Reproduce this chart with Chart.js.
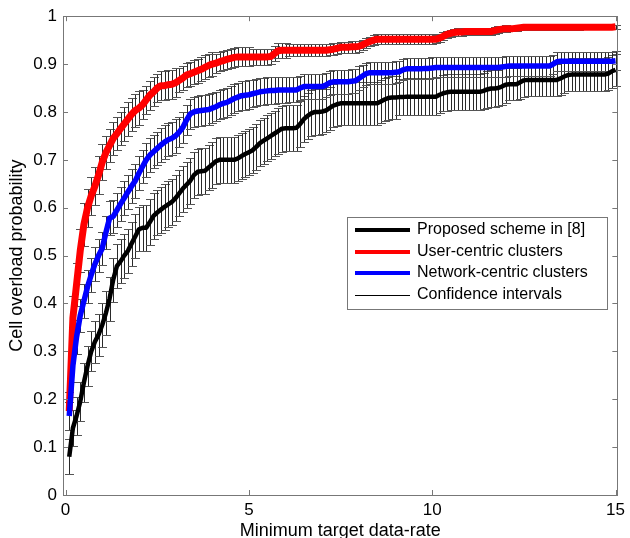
<!DOCTYPE html>
<html>
<head>
<meta charset="utf-8">
<script src="https://cdn.jsdelivr.net/npm/chart.js@4.4.1/dist/chart.umd.min.js"></script>
<style>
  body { margin: 0; background: #fff; }
  canvas { display: block; }
</style>
</head>
<body>
<canvas id="overloadChart" width="630" height="538"></canvas>
<script>
// minimum target data-rate (x)
const rates = [
  0.1, 0.2, 0.3, 0.4, 0.5, 0.6, 0.7, 0.8, 0.9, 1.0,
  1.1, 1.2, 1.3, 1.4, 1.5, 1.6, 1.7, 1.8, 1.9, 2.0,
  2.1, 2.2, 2.3, 2.4, 2.5, 2.6, 2.7, 2.8, 2.9, 3.0,
  3.1, 3.2, 3.3, 3.4, 3.5, 3.6, 3.7, 3.8, 3.9, 4.0,
  4.1, 4.2, 4.3, 4.4, 4.5, 4.6, 4.7, 4.8, 4.9, 5.0,
  5.1, 5.2, 5.3, 5.4, 5.5, 5.6, 5.7, 5.8, 5.9, 6.0,
  6.1, 6.2, 6.3, 6.4, 6.5, 6.6, 6.7, 6.8, 6.9, 7.0,
  7.1, 7.2, 7.3, 7.4, 7.5, 7.6, 7.7, 7.8, 7.9, 8.0,
  8.1, 8.2, 8.3, 8.4, 8.5, 8.6, 8.7, 8.8, 8.9, 9.0,
  9.1, 9.2, 9.3, 9.4, 9.5, 9.6, 9.7, 9.8, 9.9, 10.0,
  10.1, 10.2, 10.3, 10.4, 10.5, 10.6, 10.7, 10.8, 10.9, 11.0,
  11.1, 11.2, 11.3, 11.4, 11.5, 11.6, 11.7, 11.8, 11.9, 12.0,
  12.1, 12.2, 12.3, 12.4, 12.5, 12.6, 12.7, 12.8, 12.9, 13.0,
  13.1, 13.2, 13.3, 13.4, 13.5, 13.6, 13.7, 13.8, 13.9, 14.0,
  14.1, 14.2, 14.3, 14.4, 14.5, 14.6, 14.7, 14.8, 14.9, 15.0
]

// Proposed scheme in [8]
const proposed = [
  0.08, 0.14, 0.165, 0.195, 0.235, 0.27, 0.30, 0.32, 0.335, 0.355,
  0.38, 0.41, 0.45, 0.478, 0.488, 0.50, 0.51, 0.525, 0.54, 0.555,
  0.558, 0.558, 0.57, 0.583, 0.59, 0.596, 0.602, 0.607, 0.612, 0.62,
  0.63, 0.64, 0.648, 0.656, 0.668, 0.675, 0.676, 0.677, 0.684, 0.69,
  0.697, 0.70, 0.70, 0.70, 0.70, 0.70, 0.703, 0.708, 0.712, 0.716,
  0.72, 0.727, 0.735, 0.74, 0.745, 0.75, 0.755, 0.76, 0.765, 0.766,
  0.766, 0.766, 0.767, 0.775, 0.785, 0.792, 0.797, 0.80, 0.80, 0.801,
  0.803, 0.808, 0.813, 0.816, 0.818, 0.818, 0.818, 0.818, 0.818, 0.818,
  0.818, 0.818, 0.818, 0.818, 0.818, 0.822, 0.826, 0.829, 0.83, 0.83,
  0.831, 0.831, 0.832, 0.832, 0.832, 0.832, 0.832, 0.832, 0.832, 0.832,
  0.832, 0.836, 0.839, 0.841, 0.842, 0.842, 0.842, 0.842, 0.842, 0.842,
  0.842, 0.842, 0.842, 0.844, 0.847, 0.849, 0.849, 0.85, 0.853, 0.857,
  0.858, 0.858, 0.858, 0.862, 0.866, 0.867, 0.867, 0.867, 0.867, 0.867,
  0.867, 0.867, 0.867, 0.867, 0.87, 0.874, 0.877, 0.878, 0.878, 0.878,
  0.878, 0.878, 0.878, 0.878, 0.878, 0.878, 0.878, 0.88, 0.885, 0.888
]
const proposedErr = [
  0.036, 0.038, 0.04, 0.04, 0.04, 0.042, 0.042, 0.044, 0.044, 0.045,
  0.046, 0.046, 0.046, 0.046, 0.046, 0.046, 0.046, 0.046, 0.046, 0.046,
  0.048, 0.048, 0.048, 0.048, 0.048, 0.048, 0.048, 0.048, 0.048, 0.048,
  0.048, 0.048, 0.048, 0.048, 0.048, 0.048, 0.048, 0.048, 0.048, 0.048,
  0.048, 0.048, 0.048, 0.048, 0.048, 0.048, 0.048, 0.048, 0.048, 0.048,
  0.048, 0.048, 0.048, 0.048, 0.048, 0.048, 0.048, 0.048, 0.048, 0.048,
  0.048, 0.048, 0.048, 0.048, 0.048, 0.048, 0.048, 0.048, 0.048, 0.048,
  0.045, 0.045, 0.045, 0.045, 0.045, 0.045, 0.045, 0.045, 0.045, 0.045,
  0.045, 0.045, 0.045, 0.045, 0.045, 0.045, 0.045, 0.045, 0.045, 0.045,
  0.038, 0.038, 0.038, 0.038, 0.038, 0.038, 0.038, 0.038, 0.038, 0.038,
  0.038, 0.038, 0.038, 0.038, 0.038, 0.038, 0.038, 0.038, 0.038, 0.038,
  0.038, 0.038, 0.038, 0.038, 0.038, 0.038, 0.038, 0.038, 0.038, 0.038,
  0.034, 0.034, 0.034, 0.034, 0.034, 0.034, 0.034, 0.034, 0.034, 0.034,
  0.034, 0.034, 0.034, 0.034, 0.034, 0.034, 0.034, 0.034, 0.034, 0.034,
  0.034, 0.034, 0.034, 0.034, 0.034, 0.034, 0.034, 0.034, 0.034, 0.034
]

// User-centric clusters
const userCentric = [
  0.175, 0.37, 0.44, 0.51, 0.565, 0.60, 0.625, 0.645, 0.668, 0.695,
  0.715, 0.73, 0.745, 0.755, 0.765, 0.775, 0.785, 0.795, 0.803, 0.808,
  0.815, 0.825, 0.835, 0.842, 0.85, 0.855, 0.855, 0.857, 0.858, 0.861,
  0.866, 0.871, 0.877, 0.88, 0.883, 0.886, 0.889, 0.893, 0.897, 0.90,
  0.902, 0.905, 0.907, 0.91, 0.912, 0.914, 0.915, 0.915, 0.915, 0.915,
  0.915, 0.915, 0.915, 0.915, 0.915, 0.916, 0.922, 0.928, 0.929, 0.929,
  0.929, 0.929, 0.929, 0.929, 0.929, 0.929, 0.929, 0.929, 0.929, 0.929,
  0.929, 0.93, 0.931, 0.933, 0.935, 0.935, 0.935, 0.936, 0.936, 0.937,
  0.94, 0.944, 0.947, 0.95, 0.952, 0.952, 0.952, 0.952, 0.952, 0.952,
  0.952, 0.952, 0.952, 0.952, 0.952, 0.952, 0.952, 0.952, 0.952, 0.952,
  0.952, 0.954, 0.958, 0.962, 0.964, 0.966, 0.967, 0.967, 0.968, 0.968,
  0.968, 0.968, 0.968, 0.968, 0.968, 0.968, 0.97, 0.972, 0.973, 0.974,
  0.974, 0.974, 0.975, 0.976, 0.977, 0.977, 0.977, 0.977, 0.977, 0.977,
  0.977, 0.977, 0.977, 0.977, 0.977, 0.977, 0.977, 0.977, 0.977, 0.977,
  0.977, 0.977, 0.977, 0.977, 0.977, 0.977, 0.977, 0.977, 0.977, 0.978
]
const userCentricErr = [
  0.04, 0.045, 0.045, 0.045, 0.045, 0.04, 0.04, 0.04, 0.04, 0.038,
  0.035, 0.035, 0.035, 0.035, 0.035, 0.035, 0.035, 0.035, 0.035, 0.035,
  0.03, 0.03, 0.03, 0.03, 0.03, 0.03, 0.03, 0.03, 0.03, 0.03,
  0.025, 0.025, 0.025, 0.025, 0.025, 0.025, 0.025, 0.025, 0.025, 0.025,
  0.02, 0.02, 0.02, 0.02, 0.02, 0.02, 0.02, 0.02, 0.02, 0.02,
  0.016, 0.016, 0.016, 0.016, 0.016, 0.016, 0.016, 0.016, 0.016, 0.016,
  0.013, 0.013, 0.013, 0.013, 0.013, 0.013, 0.013, 0.013, 0.013, 0.013,
  0.012, 0.012, 0.012, 0.012, 0.012, 0.012, 0.012, 0.012, 0.012, 0.012,
  0.01, 0.01, 0.01, 0.01, 0.01, 0.01, 0.01, 0.01, 0.01, 0.01,
  0.01, 0.01, 0.01, 0.01, 0.01, 0.01, 0.01, 0.01, 0.01, 0.01,
  0.008, 0.008, 0.008, 0.008, 0.008, 0.008, 0.008, 0.008, 0.008, 0.008,
  0.007, 0.007, 0.007, 0.007, 0.007, 0.007, 0.007, 0.007, 0.007, 0.007,
  0.005, 0.005, 0.005, 0.005, 0.005, 0.005, 0.005, 0.005, 0.005, 0.005,
  0.005, 0.005, 0.005, 0.005, 0.005, 0.005, 0.005, 0.005, 0.005, 0.005,
  0.004, 0.004, 0.004, 0.004, 0.004, 0.004, 0.004, 0.004, 0.004, 0.004
]

// Network-centric clusters
const networkCentric = [
  0.165, 0.27, 0.33, 0.375, 0.405, 0.435, 0.46, 0.482, 0.50, 0.515,
  0.548, 0.578, 0.582, 0.595, 0.608, 0.62, 0.633, 0.645, 0.656, 0.672,
  0.686, 0.70, 0.71, 0.717, 0.724, 0.731, 0.737, 0.742, 0.745, 0.75,
  0.758, 0.768, 0.783, 0.796, 0.80, 0.802, 0.803, 0.804, 0.805, 0.808,
  0.811, 0.815, 0.818, 0.82, 0.824, 0.828, 0.831, 0.834, 0.835, 0.836,
  0.838, 0.84, 0.842, 0.843, 0.844, 0.845, 0.845, 0.846, 0.846, 0.846,
  0.846, 0.846, 0.846, 0.85, 0.853, 0.853, 0.853, 0.853, 0.853, 0.853,
  0.856, 0.861, 0.863, 0.863, 0.863, 0.863, 0.863, 0.864, 0.865, 0.87,
  0.875, 0.88, 0.882, 0.882, 0.882, 0.882, 0.882, 0.882, 0.882, 0.883,
  0.884, 0.888, 0.89, 0.89, 0.89, 0.89, 0.89, 0.891, 0.891, 0.892,
  0.893, 0.893, 0.893, 0.893, 0.893, 0.893, 0.893, 0.893, 0.893, 0.893,
  0.893, 0.893, 0.893, 0.893, 0.893, 0.893, 0.893, 0.893, 0.894, 0.895,
  0.896, 0.896, 0.896, 0.896, 0.896, 0.896, 0.896, 0.896, 0.896, 0.896,
  0.896, 0.896, 0.90, 0.905, 0.906, 0.906, 0.906, 0.906, 0.906, 0.906,
  0.906, 0.906, 0.906, 0.906, 0.906, 0.906, 0.906, 0.906, 0.906, 0.907
]
const networkCentricErr = [
  0.03, 0.035, 0.035, 0.035, 0.035, 0.035, 0.035, 0.035, 0.035, 0.035,
  0.035, 0.035, 0.035, 0.035, 0.035, 0.035, 0.035, 0.035, 0.035, 0.035,
  0.035, 0.035, 0.035, 0.035, 0.035, 0.035, 0.035, 0.035, 0.035, 0.035,
  0.032, 0.032, 0.032, 0.032, 0.032, 0.032, 0.032, 0.032, 0.032, 0.032,
  0.03, 0.03, 0.03, 0.03, 0.03, 0.03, 0.03, 0.03, 0.03, 0.03,
  0.028, 0.028, 0.028, 0.028, 0.028, 0.028, 0.028, 0.028, 0.028, 0.028,
  0.026, 0.026, 0.026, 0.026, 0.026, 0.026, 0.026, 0.026, 0.026, 0.026,
  0.025, 0.025, 0.025, 0.025, 0.025, 0.025, 0.025, 0.025, 0.025, 0.025,
  0.023, 0.023, 0.023, 0.023, 0.023, 0.023, 0.023, 0.023, 0.023, 0.023,
  0.022, 0.022, 0.022, 0.022, 0.022, 0.022, 0.022, 0.022, 0.022, 0.022,
  0.021, 0.021, 0.021, 0.021, 0.021, 0.021, 0.021, 0.021, 0.021, 0.021,
  0.021, 0.021, 0.021, 0.021, 0.021, 0.021, 0.021, 0.021, 0.021, 0.021,
  0.02, 0.02, 0.02, 0.02, 0.02, 0.02, 0.02, 0.02, 0.02, 0.02,
  0.02, 0.02, 0.02, 0.02, 0.02, 0.02, 0.02, 0.02, 0.02, 0.02,
  0.02, 0.02, 0.02, 0.02, 0.02, 0.02, 0.02, 0.02, 0.02, 0.02
]

const xTicks = [0, 5, 10, 15]
const yTicks = [0, 0.1, 0.2, 0.3, 0.4, 0.5, 0.6, 0.7, 0.8, 0.9, 1]

const FONT = 'Liberation Sans'

const toPoints = (ys) => ys.map((y, i) => ({ x: rates[i], y }))

// vertical confidence bars with caps, drawn under the curves
const errorBars = {
  id: 'errorBars',
  beforeDatasetsDraw(chart) {
    const { ctx, scales: { x, y } } = chart
    ctx.save()
    ctx.lineWidth = 1
    chart.data.datasets.forEach(ds => {
      ds.data.forEach((p, i) => {
        const px = Math.round(x.getPixelForValue(p.x)) + 0.5
        const top = Math.round(y.getPixelForValue(p.y + ds.errors[i])) + 0.5
        const bot = Math.round(y.getPixelForValue(p.y - ds.errors[i])) + 0.5
        ctx.strokeStyle = '#2a2a2a'
        ctx.beginPath()
        ctx.moveTo(px, top)
        ctx.lineTo(px, bot)
        ctx.stroke()
        ctx.strokeStyle = '#555'
        ctx.beginPath()
        ctx.moveTo(px - 4.5, top)
        ctx.lineTo(px + 4.5, top)
        ctx.moveTo(px - 4.5, bot)
        ctx.lineTo(px + 4.5, bot)
        ctx.stroke()
      })
    })
    ctx.restore()
  }
}

// matlab style box with inward ticks on all sides
const axesBox = {
  id: 'axesBox',
  afterDatasetsDraw(chart) {
    const { ctx, chartArea: a, scales: { x, y } } = chart
    ctx.save()
    ctx.strokeStyle = '#777'
    ctx.lineWidth = 1
    ctx.strokeRect(Math.round(a.left) + 0.5, Math.round(a.top) + 0.5,
      Math.round(a.right - a.left), Math.round(a.bottom - a.top))
    ctx.beginPath()
    xTicks.forEach(v => {
      const px = Math.round(x.getPixelForValue(v)) + 0.5
      ctx.moveTo(px, a.bottom); ctx.lineTo(px, a.bottom - 5)
      ctx.moveTo(px, a.top); ctx.lineTo(px, a.top + 5)
    })
    yTicks.forEach(v => {
      const py = Math.round(y.getPixelForValue(v)) + 0.5
      ctx.moveTo(a.left, py); ctx.lineTo(a.left + 5, py)
      ctx.moveTo(a.right, py); ctx.lineTo(a.right - 5, py)
    })
    ctx.stroke()
    ctx.restore()
  }
}

const legendBox = {
  id: 'legendBox',
  afterDraw(chart) {
    const { ctx } = chart
    const items = chart.data.datasets.map(ds => ({ label: ds.label, color: ds.borderColor, width: 4 }))
    items.push({ label: 'Confidence intervals', color: '#000', width: 1 })
    const left = 347, top = 217, w = 260, h = 92
    ctx.save()
    ctx.fillStyle = '#fff'
    ctx.fillRect(left, top, w, h)
    ctx.strokeStyle = '#777'
    ctx.lineWidth = 1
    ctx.strokeRect(left + 0.5, top + 0.5, w, h)
    ctx.font = '16px "' + FONT + '"'
    ctx.textBaseline = 'middle'
    items.forEach((it, i) => {
      const cy = top + 13 + i * 21.5
      ctx.strokeStyle = it.color
      ctx.lineWidth = it.width
      ctx.beginPath()
      ctx.moveTo(355, Math.round(cy) + (it.width === 1 ? 0.5 : 0))
      ctx.lineTo(410, Math.round(cy) + (it.width === 1 ? 0.5 : 0))
      ctx.stroke()
      ctx.fillStyle = '#000'
      ctx.fillText(it.label, 417, cy)
    })
    ctx.restore()
  }
}

new Chart(document.getElementById('overloadChart'), {
  type: 'line',
  data: {
    datasets: [
      {
        label: 'Proposed scheme in [8]',
        data: toPoints(proposed),
        errors: proposedErr,
        borderColor: '#000000',
        borderWidth: 4.5,
        order: 3,
      },
      {
        label: 'User-centric clusters',
        data: toPoints(userCentric),
        errors: userCentricErr,
        borderColor: '#ff0000',
        borderWidth: 7,
        order: 2,
      },
      {
        label: 'Network-centric clusters',
        data: toPoints(networkCentric),
        errors: networkCentricErr,
        borderColor: '#0000ff',
        borderWidth: 5.5,
        order: 1,
      },
    ],
  },
  options: {
    responsive: false,
    animation: false,
    events: [],
    elements: {
      point: { radius: 0 },
      line: { tension: 0, borderJoinStyle: 'round', borderCapStyle: 'butt', fill: false },
    },
    layout: { padding: { top: 16, right: 10, left: 0, bottom: 0 } },
    plugins: {
      legend: { display: false },
      tooltip: { enabled: false },
    },
    scales: {
      x: {
        type: 'linear',
        min: -0.07,
        max: 15.05,
        grid: { display: false, drawTicks: false },
        border: { display: false },
        afterBuildTicks: (s) => { s.ticks = xTicks.map(v => ({ value: v })) },
        afterFit: (s) => { s.height = 43 },
        ticks: {
          padding: 5,
          color: '#000',
          maxRotation: 0,
          font: { family: FONT, size: 17 },
          callback: (v) => String(v),
        },
        title: {
          display: true,
          text: 'Minimum target data-rate',
          color: '#000',
          font: { family: FONT, size: 18 },
          padding: { top: 0, bottom: -4 },
        },
      },
      y: {
        min: 0,
        max: 1,
        grid: { display: false, drawTicks: false },
        border: { display: false },
        afterBuildTicks: (s) => { s.ticks = yTicks.map(v => ({ value: v })) },
        afterFit: (s) => { s.width = 63 },
        ticks: {
          padding: 6,
          color: '#000',
          font: { family: FONT, size: 17 },
          callback: (v) => String(parseFloat(v.toFixed(1))),
        },
        title: {
          display: true,
          text: 'Cell overload probability',
          color: '#000',
          font: { family: FONT, size: 18 },
          padding: { top: 6, bottom: 0 },
        },
      },
    },
  },
  plugins: [errorBars, axesBox, legendBox],
})
</script>
</body>
</html>
